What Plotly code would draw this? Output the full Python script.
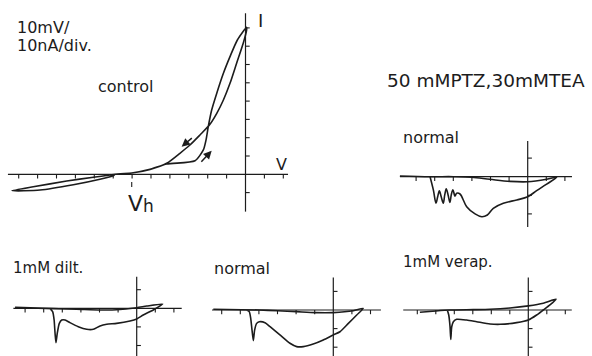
import plotly.graph_objects as go

W, H = 592, 356

# ---------------- data (mV, nA) ----------------
control_v = [-123.7, -108.7, -91.1, -77.0, -70.0, -69.0, -60.2, -50.5, -41.7,
             -26.7, -22.3, -20.9, -19.7, -17.9, -15.2, -11.7, -8.2, -4.3, 0.6,
             0.6, -1.2, -4.7, -8.2, -11.7, -15.2, -19.1,
             -24.1, -29.4, -34.7, -41.7, -50.5, -60.2, -69.0,
             -71.7, -80.5, -94.6, -112.3, -123.7]
control_i = [-9.0, -8.6, -5.7, -2.7, -0.8, 0.0, 0.7, 2.7, 5.6,
             7.4, 13.3, 18.7, 26.0, 35.1, 44.3, 55.2, 64.3, 73.4, 80.3,
             78.9, 71.6, 60.7, 49.7, 40.6, 33.3, 26.9,
             21.5, 16.0, 11.5, 6.0, 2.7, 0.7, 0.0,
             -0.4, -1.6, -3.7, -6.8, -9.0]

ptz_normal_v = [-68.7, -52.5, -40.0, -30.1, -20.3, -9.5, 0.0, 10.2, 15.6,
                10.2, 4.8, 0.0, -5.9, -13.1, -18.5, -21.7, -24.7, -28.3, -32.8, -36.4,
                -38.2, -39.1, -40.2, -41.1, -41.8, -42.8, -43.8, -44.6, -45.4,
                -46.5, -47.5, -48.4, -49.3, -50.7, -52.5]
ptz_normal_i = [0.4, 0.0, 0.0, -0.3, -1.4, -2.5, -2.7, -1.4, -0.3,
                -4.0, -7.5, -10.8, -12.5, -14.3, -17.0, -20.6, -21.5, -20.0, -16.1, -9.3,
                -8.9, -10.4, -7.0, -9.8, -13.8, -9.8, -6.5, -9.8, -14.2,
                -10.8, -7.6, -10.8, -14.2, -7.2, 0.0]

dilt_v = [-65.4, -44.8, -32.3, -19.7, -10.8, 0.0, 5.4, 14.0,
          8.9, 3.5, 0.0, -3.6, -10.8, -16.1, -19.7, -23.3, -26.9, -31.4, -35.9,
          -38.5, -40.3, -41.6, -42.7, -43.4, -43.9, -44.4, -45.2, -46.6]
dilt_i = [0.5, -0.2, -0.5, -0.9, -0.8, 0.3, 1.2, 2.3,
          -0.9, -3.6, -5.7, -6.8, -8.1, -8.6, -9.5, -11.3, -11.3, -9.9, -7.7,
          -6.3, -6.3, -8.1, -13.4, -18.5, -13.4, -6.3, -1.8, -0.2]

normal_v = [-64.5, -39.8, -29.9, -19.7, -9.8, 0.0, 10.8, 16.1,
            12.6, 8.1, 3.6, 0.0, -5.4, -10.8, -16.1, -19.7, -23.3, -28.7, -34.0,
            -36.7, -39.8, -41.2, -42.3, -43.0, -43.7, -44.4, -45.2, -46.6]
normal_i = [0.4, 0.0, -0.4, -0.9, -1.4, -1.4, -0.4, 0.9,
            -2.7, -7.2, -11.7, -13.4, -16.1, -18.3, -19.7, -19.7, -17.9, -13.4, -9.0,
            -6.8, -6.3, -7.2, -10.8, -16.5, -10.8, -4.5, -0.9, 0.0]

verap_v = [-58.6, -50.0, -42.3, -29.7, -20.7, -9.9, 0.0, 8.1, 15.0,
           11.7, 8.1, 4.5, 0.0, -6.3, -15.3, -20.7, -27.9, -33.3, -38.7,
           -40.5, -41.4, -41.9, -42.3, -43.0, -43.8]
verap_i = [-1.2, -0.5, 0.0, 0.2, 0.4, 1.1, 2.2, 3.6, 5.8,
           2.7, 0.0, -2.7, -5.4, -6.8, -7.7, -7.5, -6.3, -5.4, -5.0,
           -6.3, -9.0, -15.8, -9.0, -2.7, 0.0]

# tick positions (mV / nA), 10 per division
main_xticks = [v for v in range(-120, 30, 10) if v != 0]
main_yticks = [-10, 10, 20, 30, 40, 50, 60, 70, 80]
sub_xticks = [v for v in range(-60, 30, 10) if v != 0]
sub_yticks = [10, -10, -20]

# ---------------- panel geometry (pixels) ----------------
panels = [
    dict(ox=245.5, oy=174.3, sx=18.9, sy=18.3, box=(0, 300, 0, 230),
         xax=(-125.7, 22.5), yax=(-20.4, 88.0), xt=main_xticks, yt=main_yticks,
         v=control_v, i=control_i, sm=0.6),
    dict(ox=527.7, oy=176.7, sx=18.6, sy=18.6, box=(380, 592, 120, 240),
         xax=(-68.7, 23.8), yax=(-27.0, 19.2), xt=sub_xticks, yt=sub_yticks,
         v=ptz_normal_v, i=ptz_normal_i, sm=1.0),
    dict(ox=136.7, oy=308.3, sx=18.6, sy=18.6, box=(0, 196, 250, 356),
         xax=(-66.3, 24.2), yax=(-26.5, 17.0), xt=sub_xticks, yt=sub_yticks,
         v=dilt_v, i=dilt_i, sm=0.6),
    dict(ox=333.3, oy=310.0, sx=18.6, sy=18.6, box=(198, 390, 250, 356),
         xax=(-65.2, 25.6), yax=(-26.0, 17.5), xt=sub_xticks, yt=sub_yticks,
         v=normal_v, i=normal_i, sm=0.6),
    dict(ox=528.3, oy=310.0, sx=18.5, sy=18.6, box=(392, 592, 250, 356),
         xax=(-67.6, 23.5), yax=(-26.0, 17.5), xt=sub_xticks, yt=sub_yticks,
         v=verap_v, i=verap_i, sm=0.6),
]

INK = "#1c1c1c"
fig = go.Figure()
layout = {}

for k, p in enumerate(panels, start=1):
    X0, X1, Y0, Y1 = p["box"]
    xr = [(X0 - p["ox"]) / p["sx"] * 10, (X1 - p["ox"]) / p["sx"] * 10]
    yr = [(p["oy"] - Y1) / p["sy"] * 10, (p["oy"] - Y0) / p["sy"] * 10]
    xn = "x" if k == 1 else f"x{k}"
    yn = "y" if k == 1 else f"y{k}"
    layout["xaxis" if k == 1 else f"xaxis{k}"] = dict(
        domain=[X0 / W, X1 / W], range=xr, visible=False, anchor=yn, fixedrange=True)
    layout["yaxis" if k == 1 else f"yaxis{k}"] = dict(
        domain=[1 - Y1 / H, 1 - Y0 / H], range=yr, visible=False, anchor=xn, fixedrange=True)

    # axes (crossing at origin)
    fig.add_trace(go.Scatter(
        x=[p["xax"][0], p["xax"][1], None, 0, 0],
        y=[0, 0, None, p["yax"][0], p["yax"][1]],
        mode="lines", line=dict(color=INK, width=1.2), xaxis=xn, yaxis=yn,
        hoverinfo="skip", showlegend=False))
    # ticks
    tlx = 4.2 / p["sy"] * 10
    tly = 4.2 / p["sx"] * 10
    tx, ty = [], []
    for t in p["xt"]:
        tx += [t, t, None]
        ty += [0, -tlx, None]
    for t in p["yt"]:
        tx += [0, tly, None]
        ty += [t, t, None]
    fig.add_trace(go.Scatter(x=tx, y=ty, mode="lines",
                             line=dict(color=INK, width=1.1), xaxis=xn, yaxis=yn,
                             hoverinfo="skip", showlegend=False))
    # curve
    fig.add_trace(go.Scatter(x=p["v"], y=p["i"], mode="lines",
                             line=dict(color=INK, width=1.6, shape="spline", smoothing=p["sm"]),
                             xaxis=xn, yaxis=yn, hoverinfo="skip", showlegend=False))

# Vh marker on main panel
fig.add_trace(go.Scatter(x=[-60.2, -60.2], y=[-4.2, -6.9], mode="lines",
                         line=dict(color=INK, width=1.1), xaxis="x", yaxis="y",
                         hoverinfo="skip", showlegend=False))

FONT = "DejaVu Sans"
def txt(s, x, y, size, xanchor="left"):
    return dict(text=s, x=x / W, y=1 - y / H, xref="paper", yref="paper",
                xanchor=xanchor, yanchor="middle", showarrow=False,
                font=dict(family=FONT, size=size, color=INK))

annotations = [
    txt("10mV/", 15, 28, 16),
    txt("10nA/div.", 15, 46, 16),
    txt("control", 96, 86, 16),
    txt("I", 256, 21, 18),
    txt("V", 274, 164, 16),
    txt("V", 126, 203, 22),
    txt("h", 141, 206, 17),
    txt("50 mMPTZ,30mMTEA", 385, 80, 18.5),
    txt("normal", 401, 137, 16),
    txt("1mM dilt.", 11, 268, 15),
    txt("normal", 212, 268, 16),
    txt("1mM verap.", 401, 262, 15),
]
# hysteresis arrows
for (hx, hy, tx_, ty_) in [(-33.8, 15.1, -27.6, 20.5), (-17.9, 12.9, -24.1, 6.0)]:
    annotations.append(dict(x=hx, y=hy, ax=tx_, ay=ty_, xref="x", yref="y",
                            axref="x", ayref="y", showarrow=True, arrowhead=2,
                            arrowsize=1.1, arrowwidth=1.5, arrowcolor=INK, text=""))

fig.update_layout(**layout)
fig.update_layout(width=W, height=H, margin=dict(l=0, r=0, t=0, b=0),
                  paper_bgcolor="white", plot_bgcolor="rgba(0,0,0,0)",
                  annotations=annotations, showlegend=False)

fig.write_html("out.html", config={"displayModeBar": False},
               post_script="document.body.style.margin='0';document.body.style.overflow='hidden';")
